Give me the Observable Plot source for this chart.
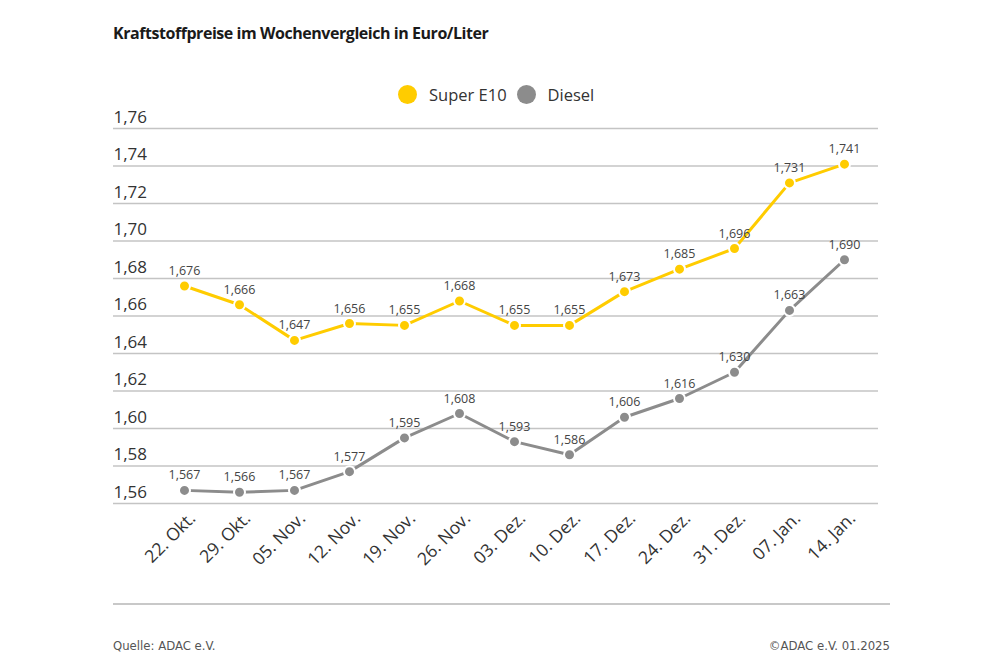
<!DOCTYPE html>
<html>
<head>
<meta charset="utf-8">
<script src="https://cdn.jsdelivr.net/npm/d3@7"></script>
<script src="https://cdn.jsdelivr.net/npm/@observablehq/plot@0.6"></script>
<style>
  html, body { margin: 0; padding: 0; background: #fff; }
  #wrap { position: relative; width: 1000px; height: 667px; overflow: hidden; font-family: "Open Sans", sans-serif; }
  #chart { position: absolute; left: 0; top: 0; }
  .title { position: absolute; left: 113px; top: 22px; font-size: 16px; font-weight: 700; color: #1a1a1a; letter-spacing: -0.45px; }
  .legend { position: absolute; left: 398px; top: 83px; font-size: 16.5px; color: #333; display: flex; align-items: center; white-space: nowrap; }
  .legend .sw { display: inline-block; width: 19px; height: 19px; border-radius: 50%; margin-right: 12px; }
  .legend .item { display: inline-flex; align-items: center; margin-right: 10px; }
  .rule { position: absolute; left: 113px; width: 777px; top: 603px; height: 2px; background: #c8c8c8; }
  .foot { position: absolute; top: 638px; font-size: 13px; color: #555; font-family: "DejaVu Sans Condensed", "Liberation Sans Narrow", sans-serif; }
</style>
</head>
<body>
<div id="wrap">
  <div id="chart"></div>
  <div class="title">Kraftstoffpreise im Wochenvergleich in Euro/Liter</div>
  <div class="legend" id="legend"></div>
  <div class="rule"></div>
  <div class="foot" style="left:113px">Quelle: ADAC e.V.</div>
  <div class="foot" style="right:110px">©ADAC e.V. 01.2025</div>
</div>
<script>
const dates = ["22. Okt.","29. Okt.","05. Nov.","12. Nov.","19. Nov.","26. Nov.","03. Dez.","10. Dez.","17. Dez.","24. Dez.","31. Dez.","07. Jan.","14. Jan."];
const superE10 = [1.676,1.666,1.647,1.656,1.655,1.668,1.655,1.655,1.673,1.685,1.696,1.731,1.741];
const diesel   = [1.567,1.566,1.567,1.577,1.595,1.608,1.593,1.586,1.606,1.616,1.630,1.663,1.690];
const yTicks = [1.56,1.58,1.60,1.62,1.64,1.66,1.68,1.70,1.72,1.74,1.76];
const series = ["Super E10","Diesel"];
const colors = ["#FFCC00","#8C8C8C"];

const data = dates.flatMap((d, i) => [
  {date: d, fuel: "Super E10", value: superE10[i]},
  {date: d, fuel: "Diesel", value: diesel[i]}
]);
const fmt3 = v => v.toFixed(3).replace(".", ",");
const fmt2 = v => v.toFixed(2).replace(".", ",");

const plot = Plot.plot({
  width: 1000,
  height: 667,
  marginTop: 128,
  marginBottom: 164,
  marginLeft: 113,
  marginRight: 122,
  style: {fontFamily: "'Open Sans', sans-serif", background: "transparent"},
  x: {type: "point", domain: dates, range: [178, 849], padding: 0, axis: null},
  y: {domain: [1.56, 1.76], axis: null},
  color: {domain: series, range: colors},
  marks: [
    Plot.ruleY(yTicks, {stroke: "#c4c4c4", strokeWidth: 1.5}),
    Plot.axisY({ticks: yTicks, anchor: "left", label: null, tickSize: 0, tickPadding: 0, textAnchor: "start", dy: -11, fontSize: 17, fill: "#333", tickFormat: fmt2}),
    Plot.line(data, {x: "date", y: "value", z: "fuel", stroke: "fuel", strokeWidth: 3}),
    Plot.dot(data, {x: "date", y: "value", fill: "fuel", r: 5.5, stroke: "white", strokeWidth: 2}),
    Plot.text(data, {x: "date", y: "value", text: d => fmt3(d.value), dy: -15, fontSize: 12.5, fill: "#444"}),
    Plot.axisX({anchor: "bottom", label: null, tickSize: 0, tickPadding: 0, tickRotate: -45, textAnchor: "end", dx: 8, dy: 12, fontSize: 17.5, fill: "#333"})
  ]
});
document.getElementById("chart").appendChild(plot);

const leg = document.getElementById("legend");
series.forEach((s, i) => {
  const it = document.createElement("span");
  it.className = "item";
  it.innerHTML = `<span class="sw" style="background:${colors[i]}"></span><span>${s}</span>`;
  leg.appendChild(it);
});
</script>
</body>
</html>
